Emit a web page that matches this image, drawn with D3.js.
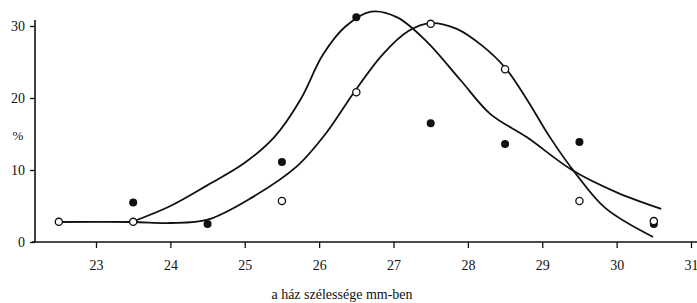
<!DOCTYPE html>
<html><head><meta charset="utf-8">
<script src="https://cdn.jsdelivr.net/npm/d3@7"></script>
<style>html,body{margin:0;padding:0;background:#fff;} svg{display:block;}</style>
</head><body>
<svg id="chart" width="697" height="303"></svg>
<script>
// Data (x = house width in mm, y = percent)
const xTicks = [23, 24, 25, 26, 27, 28, 29, 30, 31];
const yTicks = [0, 10, 20, 30];
const filledX = [23.5, 24.5, 25.5, 26.5, 27.5, 28.5, 29.5, 30.5];
const filledY = [5.5, 2.5, 11.1, 31.2, 16.5, 13.6, 13.9, 2.5];
const openX = [22.5, 23.5, 25.5, 26.5, 27.5, 28.5, 29.5, 30.5];
const openY = [2.8, 2.8, 5.7, 20.8, 30.3, 24.0, 5.7, 2.9];
// fitted curves
const curveAX = [23.48, 24.0, 24.5, 25.0, 25.4, 25.75, 26.05, 26.35, 26.7, 27.05, 27.45, 27.9, 28.3, 28.8, 29.4, 30.0, 30.6];
const curveAY = [2.78, 5.0, 7.9, 11.0, 14.6, 19.8, 26.0, 29.9, 32.0, 31.2, 27.8, 22.5, 17.8, 14.5, 10.0, 6.9, 4.6];
const curveBX = [22.45, 23.48, 24.0, 24.5, 25.1, 25.7, 26.1, 26.47, 26.85, 27.2, 27.5, 27.85, 28.2, 28.51, 28.8, 29.1, 29.45, 29.85, 30.49];
const curveBY = [2.78, 2.78, 2.64, 3.1, 6.2, 10.5, 15.2, 20.8, 26.0, 29.3, 30.4, 29.6, 27.2, 24.1, 19.7, 14.6, 9.5, 4.7, 0.7];
const xLabel = "a ház szélessége mm-ben";
const yLabel = "%";

const svg = d3.select("#chart");
const x = d3.scaleLinear().domain([23, 31]).range([96, 691]);
const y = d3.scaleLinear().domain([0, 30]).range([242, 26]);
const font = "'Liberation Serif', 'Times New Roman', serif";
const ink = "#111";

// axes
const xAxisG = svg.append("g").attr("transform", `translate(0,${y(0)})`)
  .call(d3.axisBottom(x).tickValues(xTicks).tickFormat(d3.format("d")).tickSize(6).tickSizeOuter(0).tickPadding(12));
xAxisG.select(".domain").remove();
xAxisG.append("line").attr("x1", 32).attr("x2", 697).attr("y1", 0).attr("y2", 0)
  .attr("stroke", ink).attr("stroke-width", 1.6);
const yAxisG = svg.append("g").attr("transform", `translate(35,0)`)
  .call(d3.axisLeft(y).tickValues(yTicks).tickFormat(d3.format("d")).tickSize(5).tickSizeOuter(0).tickPadding(5));
yAxisG.select(".domain").remove();
yAxisG.append("line").attr("x1", 0).attr("x2", 0).attr("y1", 20).attr("y2", y(0))
  .attr("stroke", ink).attr("stroke-width", 1.6);
svg.selectAll(".tick line").attr("stroke", ink).attr("stroke-width", 1.3);
svg.selectAll(".tick text").attr("font-family", font).attr("font-size", 14).attr("fill", ink);

svg.append("text").attr("x", 18).attr("y", 140).attr("text-anchor", "middle")
  .attr("font-family", font).attr("font-size", 13).attr("fill", ink).text(yLabel);
svg.append("text").attr("x", 342).attr("y", 299).attr("text-anchor", "middle")
  .attr("font-family", font).attr("font-size", 14).attr("fill", ink).text(xLabel);

// curves
const line = d3.line().x(d => x(d[0])).y(d => y(d[1])).curve(d3.curveCatmullRom.alpha(0.5));
svg.append("path").attr("d", line(d3.zip(curveAX, curveAY)))
  .attr("fill", "none").attr("stroke", ink).attr("stroke-width", 1.8);
svg.append("path").attr("d", line(d3.zip(curveBX, curveBY)))
  .attr("fill", "none").attr("stroke", ink).attr("stroke-width", 1.8);

// points
svg.append("g").selectAll("circle").data(d3.zip(filledX, filledY)).join("circle")
  .attr("cx", d => x(d[0])).attr("cy", d => y(d[1])).attr("r", 4).attr("fill", ink);
svg.append("g").selectAll("circle").data(d3.zip(openX, openY)).join("circle")
  .attr("cx", d => x(d[0])).attr("cy", d => y(d[1])).attr("r", 3.6)
  .attr("fill", "#fff").attr("stroke", ink).attr("stroke-width", 1.3);
</script>
</body></html>
